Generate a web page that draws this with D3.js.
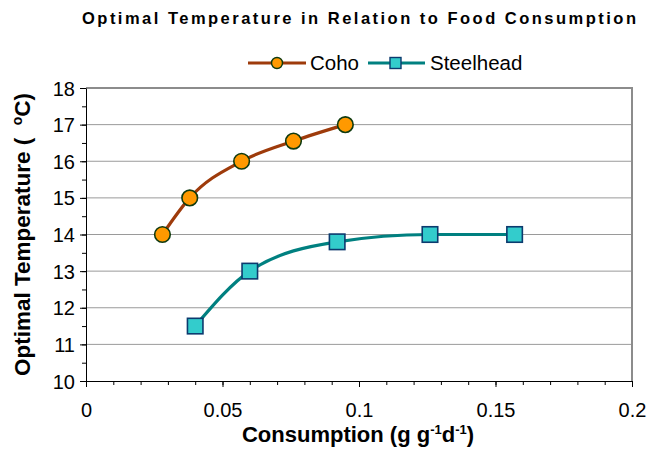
<!DOCTYPE html>
<html>
<head>
<meta charset="utf-8">
<script src="https://cdn.jsdelivr.net/npm/d3@7"></script>
<style>
  html, body { margin: 0; padding: 0; background: #fff; }
  svg { display: block; font-family: Arial, "Liberation Sans", sans-serif; }
</style>
</head>
<body>
<svg id="chart" width="648" height="466"></svg>
<script>
// Optimal temperature vs. food consumption rate for two salmonid species
const chartTitle = "Optimal Temperature in Relation to Food Consumption";
const seriesNames = ["Coho", "Steelhead"];
const cohoConsumption = [0.028, 0.038, 0.057, 0.076, 0.095];
const cohoTemperature = [14.0, 15.0, 16.0, 16.55, 17.0];
const steelheadConsumption = [0.040, 0.060, 0.092, 0.126, 0.157];
const steelheadTemperature = [11.5, 13.0, 13.8, 14.0, 14.0];
const xTicks = [0, 0.05, 0.1, 0.15, 0.2];
const xTickLabels = ["0", "0.05", "0.1", "0.15", "0.2"];
const yTicks = [10, 11, 12, 13, 14, 15, 16, 17, 18];

const svg = d3.select("#chart");
const plotL = 86, plotR = 632, plotT = 88, plotB = 381;
const font = "Arial, 'Liberation Sans', sans-serif";

const x = d3.scaleLinear().domain([0, 0.2]).range([plotL, plotR]);
const y = d3.scaleLinear().domain([10, 18]).range([plotB, plotT]);

// horizontal gridlines
svg.append("g")
  .selectAll("line")
  .data(yTicks.filter(v => v > 10 && v < 18))
  .join("line")
  .attr("x1", plotL).attr("x2", plotR)
  .attr("y1", d => y(d)).attr("y2", d => y(d))
  .attr("stroke", "#9a9a9a").attr("stroke-width", 1);

// plot frame (top and right edges)
svg.append("path")
  .attr("d", `M${plotL},${y(18)}H${x(0.2)}V${plotB}`)
  .attr("fill", "none").attr("stroke", "#8c8c8c").attr("stroke-width", 2);

// minor ticks
const xMinor = d3.range(0, 0.2001, 0.01);
const yMinor = d3.range(10, 18.001, 0.5);
svg.append("g")
  .attr("transform", `translate(0,${plotB})`)
  .call(d3.axisBottom(x).tickValues(xMinor).tickSize(4).tickFormat(""))
  .call(g => g.select(".domain").remove());
svg.append("g")
  .attr("transform", `translate(${plotL},0)`)
  .call(d3.axisLeft(y).tickValues(yMinor).tickSize(4).tickFormat(""))
  .call(g => g.select(".domain").remove());

// main axes
const xAxis = svg.append("g")
  .attr("transform", `translate(0,${plotB})`)
  .call(d3.axisBottom(x).tickValues(xTicks).tickSize(6).tickSizeOuter(0)
    .tickFormat((d, i) => xTickLabels[i]));
xAxis.selectAll("text")
  .attr("font-size", 20).attr("font-family", font)
  .attr("fill", "#000").attr("dy", 0).attr("y", 36);

const yAxis = svg.append("g")
  .attr("transform", `translate(${plotL},0)`)
  .call(d3.axisLeft(y).tickValues(yTicks).tickSize(6).tickSizeOuter(0)
    .tickFormat(d3.format("d")));
yAxis.selectAll("text")
  .attr("font-size", 20).attr("font-family", font)
  .attr("fill", "#000").attr("x", -11).attr("dy", "0.35em");

svg.selectAll(".domain").attr("stroke", "#000");
svg.selectAll(".tick line").attr("stroke", "#000");

// series: smoothed lines that stay flat where the data levels off
const line = d3.line()
  .x(d => x(d[0])).y(d => y(d[1]))
  .curve(d3.curveMonotoneX);

const coho = cohoConsumption.map((c, i) => [c, cohoTemperature[i]]);
const steelhead = steelheadConsumption.map((c, i) => [c, steelheadTemperature[i]]);

const cohoLine = "#9e3b0b", cohoFill = "#ff9900", cohoEdge = "#0f3a0f";
const steelLine = "#008080", steelFill = "#33cccc", steelEdge = "#0c3a6e";

svg.append("path").datum(coho)
  .attr("d", line).attr("fill", "none")
  .attr("stroke", cohoLine).attr("stroke-width", 3.2);
svg.append("path").datum(steelhead)
  .attr("d", line).attr("fill", "none")
  .attr("stroke", steelLine).attr("stroke-width", 3.2);

svg.append("g").selectAll("circle").data(coho).join("circle")
  .attr("cx", d => x(d[0])).attr("cy", d => y(d[1])).attr("r", 7.8)
  .attr("fill", cohoFill).attr("stroke", cohoEdge).attr("stroke-width", 1.6);

const sq = 15.5;
svg.append("g").selectAll("rect").data(steelhead).join("rect")
  .attr("x", d => x(d[0]) - sq / 2).attr("y", d => y(d[1]) - sq / 2)
  .attr("width", sq).attr("height", sq)
  .attr("fill", steelFill).attr("stroke", steelEdge).attr("stroke-width", 1.6);

// title
svg.append("text")
  .attr("x", 359).attr("y", 24)
  .attr("text-anchor", "middle")
  .attr("font-size", 16.5).attr("font-weight", "bold")
  .attr("textLength", 554).attr("lengthAdjust", "spacing")
  .text(chartTitle);

// legend
const legY = 63;
const leg = svg.append("g");
leg.append("line").attr("x1", 248).attr("x2", 306).attr("y1", legY).attr("y2", legY)
  .attr("stroke", cohoLine).attr("stroke-width", 3.2);
leg.append("circle").attr("cx", 277).attr("cy", legY).attr("r", 5.5)
  .attr("fill", cohoFill).attr("stroke", cohoEdge).attr("stroke-width", 1.4);
leg.append("text").attr("x", 310).attr("y", legY).attr("dy", "0.36em")
  .attr("font-size", 20.5).text(seriesNames[0]);
leg.append("line").attr("x1", 368).attr("x2", 425).attr("y1", legY).attr("y2", legY)
  .attr("stroke", steelLine).attr("stroke-width", 3.2);
leg.append("rect").attr("x", 390).attr("y", legY - 5.5).attr("width", 11).attr("height", 11)
  .attr("fill", steelFill).attr("stroke", steelEdge).attr("stroke-width", 1.4);
leg.append("text").attr("x", 430).attr("y", legY).attr("dy", "0.36em")
  .attr("font-size", 20.5).text(seriesNames[1]);

// x axis title with superscripts
const xt = svg.append("text")
  .attr("x", 358).attr("y", 442)
  .attr("text-anchor", "middle")
  .attr("font-size", 22).attr("font-weight", "bold");
xt.append("tspan").text("Consumption (g g");
xt.append("tspan").attr("font-size", 13).attr("dy", -8).text("-1");
xt.append("tspan").attr("dy", 8).text("d");
xt.append("tspan").attr("font-size", 13).attr("dy", -8).text("-1");
xt.append("tspan").attr("dy", 8).text(")");

// y axis title
const yt = svg.append("text")
  .attr("transform", `translate(30,${(plotT + plotB) / 2}) rotate(-90)`)
  .attr("text-anchor", "middle")
  .attr("font-size", 22.5).attr("font-weight", "bold")
  .attr("xml:space", "preserve")
  .style("white-space", "pre");
yt.append("tspan").text("Optimal Temperature (  ");
yt.append("tspan").attr("font-size", 14).attr("dy", -8).text("o");
yt.append("tspan").attr("dy", 8).text("C)");
</script>
</body>
</html>
